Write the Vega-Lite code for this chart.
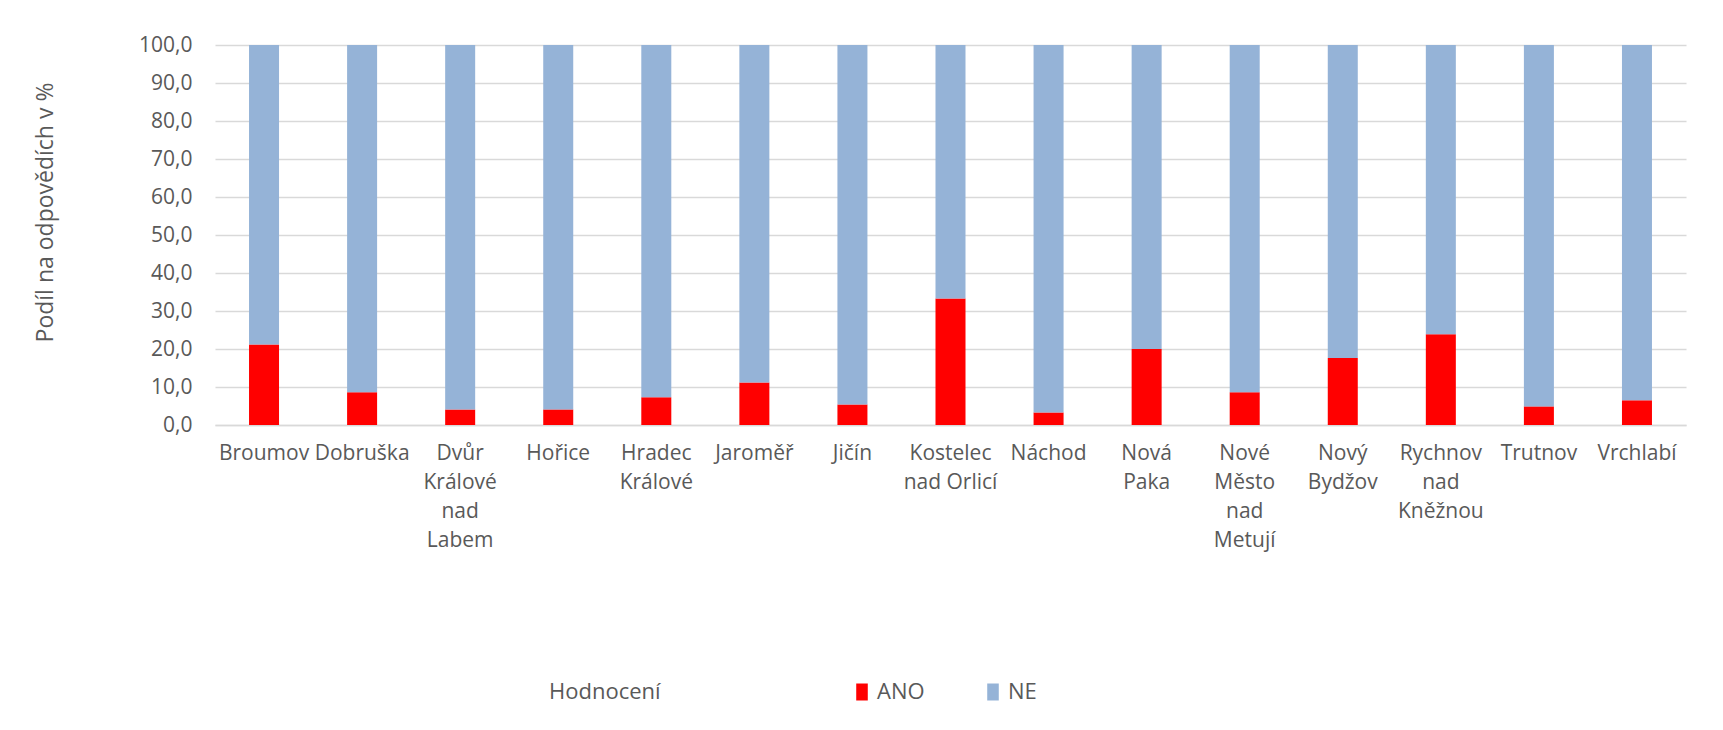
{
  "$schema": "https://vega.github.io/schema/vega-lite/v6.json",
  "width": 1471,
  "height": 380,
  "autosize": {"type": "none"},
  "padding": {"left": 215, "top": 45, "right": 37, "bottom": 305},
  "background": "white",
  "config": {
    "font": "Open Sans",
    "view": {"stroke": null},
    "axis": {"labelColor": "#595959", "titleColor": "#595959", "labelFont": "Open Sans", "titleFont": "Open Sans"},
    "legend": {"labelColor": "#595959", "titleColor": "#595959"}
  },
  "data": {
    "values": [
      {"mesto": "Broumov", "hodnoceni": "ANO", "podil": 21.2},
      {"mesto": "Broumov", "hodnoceni": "NE", "podil": 78.8},
      {"mesto": "Dobruška", "hodnoceni": "ANO", "podil": 8.6},
      {"mesto": "Dobruška", "hodnoceni": "NE", "podil": 91.4},
      {"mesto": "Dvůr Králové nad Labem", "hodnoceni": "ANO", "podil": 4.1},
      {"mesto": "Dvůr Králové nad Labem", "hodnoceni": "NE", "podil": 95.9},
      {"mesto": "Hořice", "hodnoceni": "ANO", "podil": 4.1},
      {"mesto": "Hořice", "hodnoceni": "NE", "podil": 95.9},
      {"mesto": "Hradec Králové", "hodnoceni": "ANO", "podil": 7.3},
      {"mesto": "Hradec Králové", "hodnoceni": "NE", "podil": 92.7},
      {"mesto": "Jaroměř", "hodnoceni": "ANO", "podil": 11.2},
      {"mesto": "Jaroměř", "hodnoceni": "NE", "podil": 88.8},
      {"mesto": "Jičín", "hodnoceni": "ANO", "podil": 5.4},
      {"mesto": "Jičín", "hodnoceni": "NE", "podil": 94.6},
      {"mesto": "Kostelec nad Orlicí", "hodnoceni": "ANO", "podil": 33.3},
      {"mesto": "Kostelec nad Orlicí", "hodnoceni": "NE", "podil": 66.7},
      {"mesto": "Náchod", "hodnoceni": "ANO", "podil": 3.3},
      {"mesto": "Náchod", "hodnoceni": "NE", "podil": 96.7},
      {"mesto": "Nová Paka", "hodnoceni": "ANO", "podil": 20.0},
      {"mesto": "Nová Paka", "hodnoceni": "NE", "podil": 80.0},
      {"mesto": "Nové Město nad Metují", "hodnoceni": "ANO", "podil": 8.6},
      {"mesto": "Nové Město nad Metují", "hodnoceni": "NE", "podil": 91.4},
      {"mesto": "Nový Bydžov", "hodnoceni": "ANO", "podil": 17.6},
      {"mesto": "Nový Bydžov", "hodnoceni": "NE", "podil": 82.4},
      {"mesto": "Rychnov nad Kněžnou", "hodnoceni": "ANO", "podil": 23.9},
      {"mesto": "Rychnov nad Kněžnou", "hodnoceni": "NE", "podil": 76.1},
      {"mesto": "Trutnov", "hodnoceni": "ANO", "podil": 4.9},
      {"mesto": "Trutnov", "hodnoceni": "NE", "podil": 95.1},
      {"mesto": "Vrchlabí", "hodnoceni": "ANO", "podil": 6.5},
      {"mesto": "Vrchlabí", "hodnoceni": "NE", "podil": 93.5}
    ]
  },
  "mark": {"type": "bar"},
  "encoding": {
    "x": {
      "field": "mesto",
      "type": "nominal",
      "sort": null,
      "scale": {"paddingInner": 0.694, "paddingOuter": 0.347},
      "axis": {
        "title": null,
        "labelAngle": 0,
        "labelFontSize": 21,
        "labelLineHeight": 29,
        "labelPadding": 17,
        "labelAlign": "center",
        "labelBaseline": "top",
        "ticks": false,
        "domain": true,
        "domainColor": "#d9d9d9",
        "domainWidth": 1.5,
        "labelLimit": 0,
        "labelExpr": "datum.value == 'Dvůr Králové nad Labem' ? ['Dvůr','Králové','nad','Labem'] : datum.value == 'Hradec Králové' ? ['Hradec','Králové'] : datum.value == 'Kostelec nad Orlicí' ? ['Kostelec','nad Orlicí'] : datum.value == 'Nová Paka' ? ['Nová','Paka'] : datum.value == 'Nové Město nad Metují' ? ['Nové','Město','nad','Metují'] : datum.value == 'Nový Bydžov' ? ['Nový','Bydžov'] : datum.value == 'Rychnov nad Kněžnou' ? ['Rychnov','nad','Kněžnou'] : datum.value"
      }
    },
    "y": {
      "field": "podil",
      "type": "quantitative",
      "stack": "zero",
      "scale": {"domain": [0, 100], "nice": false},
      "axis": {
        "title": "Podíl na odpovědích v %",
        "titleFontSize": 23,
        "titleFontWeight": "normal",
        "titleX": -170,
        "titleY": 167,
        "titleAngle": -90,
        "titleAlign": "center",
        "titleBaseline": "middle",
        "values": [0, 10, 20, 30, 40, 50, 60, 70, 80, 90, 100],
        "labelExpr": "replace(format(datum.value, '.1f'), '.', ',')",
        "labelFontSize": 21,
        "labelPadding": 23,
        "ticks": false,
        "domain": false,
        "grid": true,
        "gridColor": "#d9d9d9",
        "gridWidth": 1.5
      }
    },
    "color": {
      "field": "hodnoceni",
      "type": "nominal",
      "scale": {"domain": ["ANO", "NE"], "range": ["#ff0000", "#95b3d7"]},
      "legend": {
        "title": "Hodnocení",
        "orient": "none",
        "direction": "horizontal",
        "legendX": 334,
        "legendY": 636,
        "titleOrient": "left",
        "titleFontSize": 22,
        "titleFontWeight": "normal",
        "titlePadding": 190,
        "titleBaseline": "middle",
        "labelFontSize": 22,
        "labelOffset": 4,
        "columnPadding": 57,
        "symbolType": "M-0.68,-1H0.68V1H-0.68Z",
        "symbolSize": 289,
        "symbolStrokeWidth": 0,
        "symbolOpacity": 1
      }
    },
    "order": {"field": "hodnoceni", "sort": "ascending"}
  }
}
